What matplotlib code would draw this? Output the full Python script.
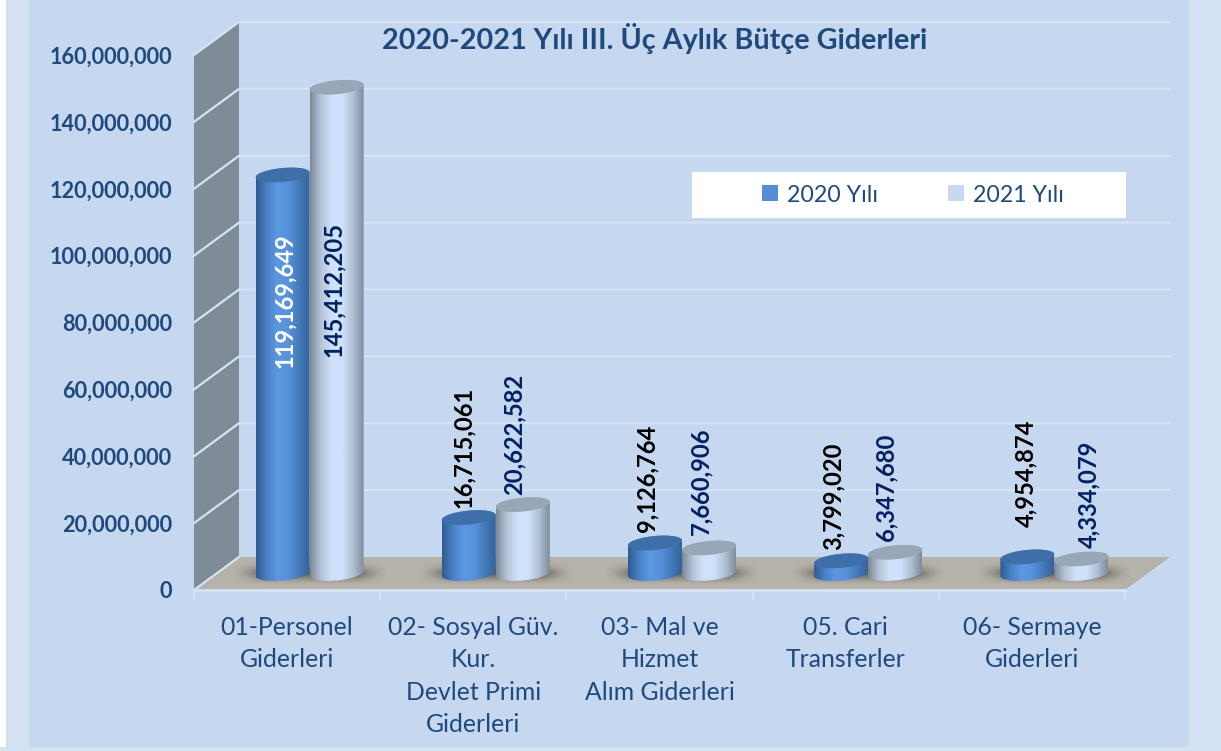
import numpy as np
import matplotlib
matplotlib.use("Agg")
import matplotlib.pyplot as plt
from matplotlib.patches import Polygon, Rectangle, Patch
from matplotlib.path import Path
from matplotlib.transforms import IdentityTransform
from matplotlib.colors import LinearSegmentedColormap

# data
categories = ["01-Personel\nGiderleri", "02- Sosyal Güv.\nKur.\nDevlet Primi\nGiderleri",
              "03- Mal ve\nHizmet\nAlım Giderleri", "05. Cari\nTransferler", "06- Sermaye\nGiderleri"]
values_2020 = [119169649, 16715061, 9126764, 3799020, 4954874]
values_2021 = [145412205, 20622582, 7660906, 6347680, 4334079]
yticks = [0, 20000000, 40000000, 60000000, 80000000, 100000000, 120000000, 140000000, 160000000]

# label nudges in pixels (x, y) from the default spot above the bar
nudge_2020 = [(0, 0), (-5, 2), (-8, 3), (-8, 3), (-2, 22)]
nudge_2021 = [(0, 0), (-9, 2), (-8, 5), (-9, 3), (7, 3)]

W, H = 1221, 751
DX, DY = 45, 33       # depth of the 3d box
BG = "#C6D8F0"
LIGHT = "#D3E1F3"
GRID = "#D6E3F5"
NAVY = "#1F497D"
BAR_W = 54
BAR_SHIFT = BAR_W / 2 / 186.2

plt.rcParams["font.family"] = ["Lato", "DejaVu Sans"]
fig = plt.figure(figsize=(W / 100, H / 100), dpi=100, facecolor=BG)
fig.add_artist(Rectangle((0, 0), 6 / W, 1, transform=fig.transFigure, fc="white", ec="none"))
fig.add_artist(Rectangle((6 / W, 0), 23 / W, 1, transform=fig.transFigure, fc=LIGHT, ec="none"))
fig.add_artist(Rectangle((1189 / W, 0), 32 / W, 1, transform=fig.transFigure, fc=LIGHT, ec="none"))
fig.add_artist(Rectangle((0, 0), 1, 4 / H, transform=fig.transFigure, fc=LIGHT, ec="none"))

ax = fig.add_axes([194 / W, (H - 590) / H, 931 / W, 535 / H])
ax.patch.set_visible(False)
ax.set_xlim(0, 5)
ax.set_ylim(0, 160000000)
pix = IdentityTransform()


def pt(x, v, depth=0.0):
    px, py = ax.transData.transform((x, v))
    return px + DX * depth, py + DY * depth


def shape(points, **kw):
    p = Polygon(points, closed=True, transform=pix, clip_on=False, **kw)
    ax.add_patch(p)
    return p


# walls and floor
shape([pt(0, 0), pt(0, 0, 1), pt(0, 160000000, 1), pt(0, 160000000)], fc="#7F8C97", ec="none", zorder=1)
shape([pt(0, 0), pt(0, 0, 1), pt(5, 0, 1), pt(5, 0)], fc="#B5B2AA", ec="none", zorder=1)
for v in yticks:
    pts = [pt(0, v), pt(0, v, 1), pt(5, v, 1)]
    if v == 0:
        pts = [pt(0, v), pt(0, v, 1)]
    ax.plot(*zip(*pts), transform=pix, color=GRID, lw=1.6, clip_on=False, zorder=2)
ax.plot(*zip(pt(0, 0), pt(5, 0)), transform=pix, color=GRID, lw=2, clip_on=False, zorder=2)

blue = LinearSegmentedColormap.from_list("b", ["#2F5A90", "#4A80C4", "#5C98E2", "#5792DB", "#447AB8", "#34619A"])
pale = LinearSegmentedColormap.from_list("p", ["#7C8896", "#B4C3D6", "#CFE2FB", "#CFE2FB", "#B0BFD2", "#808C9B"])
shade = LinearSegmentedColormap.from_list("s", [(0.3, 0.29, 0.26, 0), (0.3, 0.29, 0.26, 0.75)])
grad = np.linspace(0, 1, 256).reshape(1, -1)

floor_path = Path([pt(0, 0), pt(0, 0, 1), pt(5, 0, 1), pt(5, 0), pt(0, 0)])


def ellipse_pts(cx, cy, t0, t1):
    a, b = BAR_W / 2, 7
    t = np.linspace(t0, t1, 50)
    x = a * np.cos(t)
    return np.column_stack([cx + x, cy + b * np.sin(t) + 0.09 * x])


def cylinder(x, v, cmap, top):
    cx, base = pt(x, 0, 0.5)
    _, head = pt(x, v, 0.5)
    body = np.vstack([ellipse_pts(cx, base, np.pi, 2 * np.pi), ellipse_pts(cx, head, 0, np.pi)])
    im = ax.imshow(grad, cmap=cmap, aspect="auto", transform=pix, zorder=4,
                   extent=(cx - BAR_W / 2, cx + BAR_W / 2, base - 12, head + 12))
    im.set_clip_path(Path(np.vstack([body, body[:1]])), pix)
    shape(ellipse_pts(cx, head, 0, 2 * np.pi), fc=top, ec="none", zorder=5)


# soft shadow under each pair of bars
yy, xx = np.mgrid[-1:1:60j, -1:1:200j]
blur = (np.clip((1 - np.abs(xx)) / 0.4, 0, 1) * np.clip((1 - np.abs(yy)) / 0.9, 0, 1)) ** 1.5
for i in range(5):
    cx, base = pt(i + 0.5, 0, 0.5)
    im = ax.imshow(blur, cmap=shade, aspect="auto", transform=pix, zorder=3, vmin=0, vmax=1,
                   extent=(cx - 78, cx + 78, base - 12, base + 12))
    im.set_clip_path(floor_path, pix)
    im.set_clip_box(fig.bbox)

for i in range(5):
    cylinder(i + 0.5 - BAR_SHIFT, values_2020[i], blue, "#3F6FA8")
    cylinder(i + 0.5 + BAR_SHIFT, values_2021[i], pale, "#97A6B8")

ax.set_xlim(0, 5)
ax.set_ylim(0, 160000000)

# value labels
for i in range(5):
    a_x, a_y = pt(i + 0.5 - BAR_SHIFT, values_2020[i], 0.5)
    b_x, b_y = pt(i + 0.5 + BAR_SHIFT, values_2021[i], 0.5)
    if i == 0:
        ax.text(a_x + 2, a_y - 193, f"{values_2020[i]:,}", transform=pix, rotation=90, ha="center", va="bottom",
                color="white", fontsize=17.1, fontweight="bold", zorder=6)
        ax.text(b_x - 3, b_y - 270, f"{values_2021[i]:,}", transform=pix, rotation=90, ha="center", va="bottom",
                color="#002060", fontsize=17.1, fontweight="bold", zorder=6)
    else:
        ax.text(a_x + nudge_2020[i][0], a_y + 8 + nudge_2020[i][1], f"{values_2020[i]:,}", transform=pix, rotation=90,
                ha="center", va="bottom", color="black", fontsize=17.1, fontweight="bold", zorder=6, clip_on=False)
        ax.text(b_x + nudge_2021[i][0], b_y + 8 + nudge_2021[i][1], f"{values_2021[i]:,}", transform=pix, rotation=90,
                ha="center", va="bottom", color="#002060", fontsize=17.1, fontweight="bold", zorder=6, clip_on=False)

# axes
for s in ax.spines.values():
    s.set_visible(False)
ax.set_yticks(yticks)
ax.set_yticklabels([f"{v:,}" for v in yticks], fontsize=15.6, fontweight="bold", color=NAVY)
ax.tick_params(axis="y", length=0, pad=15.5)
ax.set_xticks(np.arange(5) + 0.5)
ax.set_xticklabels(categories, fontsize=17.8, color=NAVY, linespacing=1.5)
ax.tick_params(axis="x", which="major", length=0, pad=18.5)
ax.set_xticks(np.arange(6), minor=True)
ax.tick_params(axis="x", which="minor", length=7, width=1.5, color=GRID)

# title and legend
fig.text(655 / W, 1 - 38 / H, "2020-2021 Yılı III. Üç Aylık Bütçe Giderleri", ha="center", va="center",
         fontsize=20.7, fontweight="bold", color=NAVY)
fig.add_artist(Rectangle((692 / W, 1 - 218 / H), 434 / W, 46 / H, transform=fig.transFigure,
                         fc="white", ec="none", zorder=7))
leg = fig.legend(handles=[Patch(fc="#558ED5", label="2020 Yılı"), Patch(fc="#C6D9F1", label="2021 Yılı")],
                 ncol=2, frameon=False, loc="center", bbox_to_anchor=(913 / W, 1 - 195 / H), fontsize=16.7,
                 labelcolor=NAVY, handlelength=0.68, handleheight=0.68, handletextpad=0.4, columnspacing=3.0)
leg.set_zorder(8)

fig.savefig("out.png", dpi=100)
